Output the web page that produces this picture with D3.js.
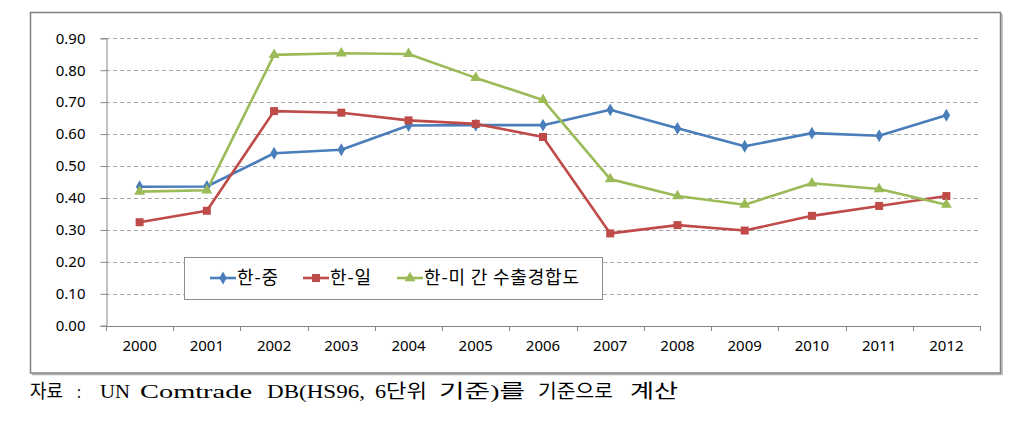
<!DOCTYPE html>
<html><head><meta charset="utf-8">
<script src="https://cdn.jsdelivr.net/npm/d3@7"></script>
<style>
html,body{margin:0;padding:0;background:#fff;}
svg{display:block;}
</style></head>
<body>
<svg id="chart" width="1035" height="437"></svg>
<script>
const years = ["2000","2001","2002","2003","2004","2005","2006","2007","2008","2009","2010","2011","2012"];
const seriesNames = ["한-중","한-일","한-미 간 수출경합도"];
const koreaChina = [0.435,0.436,0.540,0.551,0.627,0.628,0.628,0.676,0.618,0.562,0.603,0.595,0.659];
const koreaJapan = [0.324,0.360,0.672,0.667,0.643,0.632,0.591,0.289,0.315,0.298,0.344,0.375,0.406];
const koreaUS = [0.420,0.424,0.848,0.853,0.851,0.776,0.707,0.459,0.406,0.379,0.446,0.428,0.379];
const yTicks = [0,0.1,0.2,0.3,0.4,0.5,0.6,0.7,0.8,0.9];
const caption = "자료 : UN Comtrade DB(HS96, 6단위 기준)를 기준으로 계산";

const colors = ["#4a7ebb","#be4b48","#9bbb59"];
const symbols = [d3.symbolDiamond, d3.symbolSquare, d3.symbolTriangle];
const symSizes = [48, 64, 52];
const data = [koreaChina, koreaJapan, koreaUS];

const svg = d3.select("#chart");

// outer frame with slight shadow
svg.append("line").attr("x1",1002).attr("x2",1002).attr("y1",14).attr("y2",375).attr("stroke","#b0b0b0").attr("stroke-width",1.5);
svg.append("line").attr("x1",32).attr("x2",1002).attr("y1",374.5).attr("y2",374.5).attr("stroke","#b0b0b0").attr("stroke-width",1.5);
svg.append("rect").attr("x",30.5).attr("y",12.5).attr("width",970).attr("height",360.5)
  .attr("fill","#fff").attr("stroke","#7f7f7f").attr("stroke-width",1.5);

const pLeft = 106, pRight = 980, pTop = 38.3, pBottom = 325.7;
const x = d3.scaleBand().domain(years).range([pLeft,pRight]);
const y = d3.scaleLinear().domain([0,0.9]).range([pBottom,pTop]);

// gridlines
svg.append("g").selectAll("line").data(yTicks.filter(d=>d>0)).join("line")
  .attr("x1",pLeft).attr("x2",pRight)
  .attr("y1",d=>Math.round(y(d))+0.5).attr("y2",d=>Math.round(y(d))+0.5)
  .attr("stroke","#a6a6a6").attr("stroke-width",1).attr("stroke-dasharray","4,3");

// y axis
const yAxis = svg.append("g").attr("transform",`translate(${pLeft+0.5},0)`)
  .call(d3.axisLeft(y).tickValues(yTicks).tickFormat(d3.format(".2f")).tickSize(6).tickPadding(15));
yAxis.select(".domain").attr("stroke","#868686");
yAxis.selectAll(".tick line").attr("stroke","#868686");
yAxis.selectAll("text").attr("font-family","'Noto Sans', sans-serif").attr("font-size",15).attr("fill","#000");

// x axis
const xAxis = svg.append("g").attr("transform",`translate(0,${Math.round(pBottom)+0.5})`)
  .call(d3.axisBottom(x).tickSize(0).tickPadding(14));
xAxis.select(".domain").attr("stroke","#868686").attr("d",`M${pLeft},0H${pRight}`);
xAxis.selectAll(".tick line").remove();
xAxis.selectAll("text").attr("font-family","'Noto Sans', sans-serif").attr("font-size",15).attr("fill","#000");
// category boundary ticks
const bounds = years.map(d=>x(d)).concat([pRight]);
svg.append("g").selectAll("line").data(bounds).join("line")
  .attr("x1",d=>Math.round(d)+0.5).attr("x2",d=>Math.round(d)+0.5)
  .attr("y1",Math.round(pBottom)).attr("y2",Math.round(pBottom)+5)
  .attr("stroke","#868686");

// lines
const line = d3.line().x((d,i)=>x(years[i])+x.bandwidth()/2).y(d=>y(d));
data.forEach((vals,k)=>{
  svg.append("path").datum(vals).attr("d",line).attr("fill","none")
    .attr("stroke",colors[k]).attr("stroke-width",2.6).attr("stroke-linejoin","round");
});
data.forEach((vals,k)=>{
  svg.append("g").selectAll("path").data(vals).join("path")
    .attr("transform",(d,i)=>`translate(${x(years[i])+x.bandwidth()/2},${y(d)})`)
    .attr("d",d3.symbol().type(symbols[k]).size(symSizes[k]))
    .attr("fill",colors[k]);
});

// legend
const lg = svg.append("g");
lg.append("rect").attr("x",184.5).attr("y",257.5).attr("width",418).attr("height",42)
  .attr("fill","#fff").attr("stroke","#8c8c8c").attr("stroke-width",1);
const legX = [210, 303, 397];
const legW = [41, 41, 155];
seriesNames.forEach((n,k)=>{
  const g = lg.append("g").attr("transform",`translate(${legX[k]},278)`);
  g.append("line").attr("x1",0).attr("x2",26).attr("stroke",colors[k]).attr("stroke-width",2.6);
  g.append("path").attr("transform","translate(13,0)").attr("d",d3.symbol().type(symbols[k]).size(symSizes[k])).attr("fill",colors[k]);
  g.append("text").attr("x",27).attr("y",6).attr("font-family","'Noto Sans CJK KR', sans-serif")
    .attr("font-size",18).attr("textLength",legW[k]).attr("lengthAdjust","spacing")
    .attr("fill","#000").text(n);
});

// caption: each word placed to match the reference's wide serif typesetting
const capWords = caption.split(" ");
const capX = [30, 77, 100, 140, 267, 375, 439, 538, 630];
const capW = [33, 4, 30, 112, 98, 52, 86, 75, 48];
const cap = svg.append("text").attr("y",398).attr("font-family","'Liberation Serif', 'Noto Sans CJK KR', serif")
  .attr("font-size",19.5).attr("fill","#000");
capWords.forEach((w,i)=>{
  cap.append("tspan").attr("x",capX[i]).attr("textLength",capW[i]).attr("lengthAdjust","spacingAndGlyphs").text(w);
});
</script>
</body></html>
